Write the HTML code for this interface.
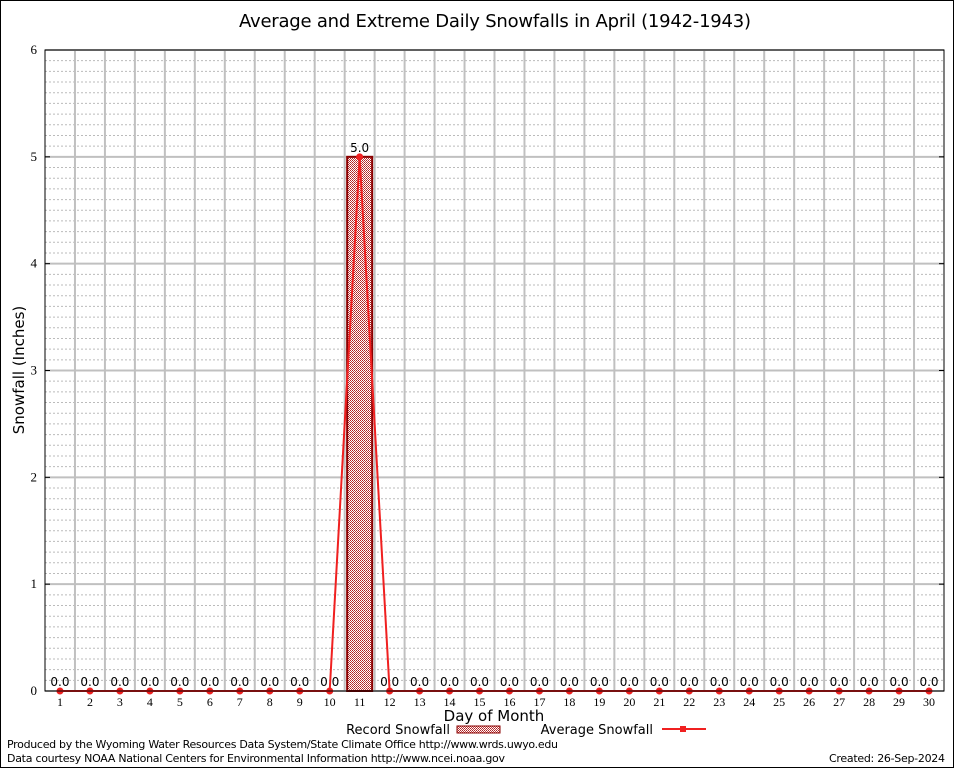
<!DOCTYPE html>
<html><head><meta charset="utf-8"><style>
body{margin:0;background:#fff;}
svg{display:block;font-family:"DejaVu Sans","Liberation Sans",sans-serif;}
</style></head><body>
<svg id="chart" width="954" height="768" viewBox="0 0 954 768">
<defs>
<pattern id="dots" width="2" height="2" patternUnits="userSpaceOnUse">
<rect width="2" height="2" fill="#fff"/><rect width="1" height="1" fill="#b02020"/><rect x="1" y="1" width="1" height="1" fill="#c04040"/>
</pattern>
</defs>
<rect x="0.5" y="0.5" width="953" height="767" fill="#fff" stroke="#000"/>
<text x="495" y="27" font-size="18" text-anchor="middle" textLength="512">Average and Extreme Daily Snowfalls in April (1942-1943)</text>
<g id="grid"></g>
<g id="marks"></g>
<rect x="45" y="50" width="899" height="641" fill="none" stroke="#000"/>
<text transform="translate(24,370) rotate(-90)" font-size="15" text-anchor="middle">Snowfall (Inches)</text>
<text x="494" y="721" font-size="15" text-anchor="middle">Day of Month</text>
<g>
<text x="450" y="734" font-size="13" text-anchor="end">Record Snowfall</text>
<rect x="457" y="726" width="43" height="7" fill="url(#dots)" stroke="#8b0000"/>
</g>
<g>
<text x="653" y="734" font-size="13" text-anchor="end">Average Snowfall</text>
<line x1="662" y1="729" x2="706" y2="729" stroke="#f02020" stroke-width="2"/>
<rect x="680" y="726" width="6" height="6" fill="#f02020"/>
</g>
<text x="7" y="748" font-size="11" textLength="551">Produced by the Wyoming Water Resources Data System/State Climate Office http://www.wrds.uwyo.edu</text>
<text x="7" y="762" font-size="11" textLength="498">Data courtesy NOAA National Centers for Environmental Information http://www.ncei.noaa.gov</text>
<text x="945" y="762" font-size="11" text-anchor="end" textLength="116">Created:  26-Sep-2024</text>
</svg>
<script>
const days=[1,2,3,4,5,6,7,8,9,10,11,12,13,14,15,16,17,18,19,20,21,22,23,24,25,26,27,28,29,30];
const recordValues=[0,0,0,0,0,0,0,0,0,0,5,0,0,0,0,0,0,0,0,0,0,0,0,0,0,0,0,0,0,0];
const averageValues=[0,0,0,0,0,0,0,0,0,0,5,0,0,0,0,0,0,0,0,0,0,0,0,0,0,0,0,0,0,0];
const yTicks=[0,1,2,3,4,5,6];
const NS='http://www.w3.org/2000/svg';
const L=45,R=944,T=50,B=691;
const xs=d=>L+(d-0.5)*(R-L)/30;
const ys=v=>B-v*(B-T)/6;
function mk(tag,attrs,parent,txt){const e=document.createElementNS(NS,tag);for(const k in attrs)e.setAttribute(k,attrs[k]);if(txt!==undefined)e.textContent=txt;parent.appendChild(e);return e;}
const grid=document.getElementById('grid'),marks=document.getElementById('marks');
for(let v=0;v<=6.001;v+=0.1){const y=ys(v);const major=Math.abs(v-Math.round(v))<1e-6;
 const g=mk('line',{x1:L,x2:R,y1:y,y2:y,stroke:major?'#c0c0c0':'#bbb','stroke-width':major?2:1,'stroke-dasharray':major?'none':'2,2'},grid);
 
 }
for(let i=1;i<30;i++){const x=xs(i+0.5);const g=mk('line',{x1:x,x2:x,y1:T,y2:B,stroke:'#c0c0c0','stroke-width':2},grid);
 
 }
yTicks.forEach(t=>{const y=ys(t);
 const e=mk('text',{x:L-8,y:y+4,'font-size':13,'text-anchor':'end','font-family':'Liberation Serif,serif'},grid,String(t));
 
 
 mk('line',{x1:L,x2:L+5,y1:y,y2:y,stroke:'#000'},grid);mk('line',{x1:R-5,x2:R,y1:y,y2:y,stroke:'#000'},grid);});
days.forEach((d,i)=>{const x=xs(d);
 const e=mk('text',{x:x,y:B+15,'font-size':12,'text-anchor':'middle','font-family':'Liberation Serif,serif'},grid,String(d));
 
 
 const v=recordValues[i];
 if(v>0){const b=mk('rect',{x:x-12.5,y:ys(v),width:25,height:B-ys(v),fill:'url(#dots)',stroke:'#8b0000','stroke-width':2},marks);
  
  }
 const lb=mk('text',{x:x,y:ys(v)-5,'font-size':12,'text-anchor':'middle'},marks,v.toFixed(1));
 
 });
const pts=days.map((d,i)=>xs(d)+','+ys(averageValues[i])).join(' ');
const pl=mk('polyline',{points:pts,fill:'none',stroke:'#f02020','stroke-width':2},marks);


days.forEach((d,i)=>{const p=mk('circle',{cx:xs(d),cy:ys(averageValues[i]),r:3.5,fill:'#f02020'},marks);
 
 });
</script>
</body></html>
